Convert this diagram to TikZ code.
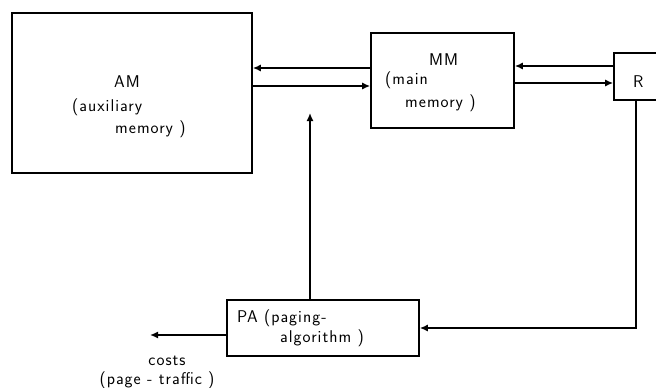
\documentclass[tikz,border=0pt]{standalone}
\usepackage{fontspec}
\newfontfamily\blockfont[LetterSpace=6]{Latin Modern Sans}
\usetikzlibrary{arrows.meta}
\begin{document}
\begin{tikzpicture}[x=1pt,y=-1pt,
  box/.style={draw,line width=1.6pt,inner sep=0pt},
  lbl/.style={font=\blockfont\fontsize{17}{20}\selectfont,inner sep=0pt,anchor=west},
  arr/.style={line width=1.5pt,-{Latex[length=8pt,width=7pt]}},
  wire/.style={line width=1.5pt}]
\useasboundingbox (0,0) rectangle (656,388);
\clip (0,0) rectangle (656,388);

% blocks
\node[box,minimum width=240pt,minimum height=160pt] (am) at (132,93) {};
\node[box,minimum width=143pt,minimum height=95pt] (mm) at (442.5,80.5) {};
\node[box,minimum width=50pt,minimum height=47pt] (r) at (639,76.5) {};
\node[box,minimum width=192pt,minimum height=56pt] (pa) at (323,328) {};

% block texts
\node[lbl] (amt) at (114,82) {AM};
\node[lbl] (amt2) at (72,107) {(auxiliary};
\node[lbl] (amt3) at (115,129) {memory )};
\node[lbl] (mmt) at (429,60) {MM};
\node[lbl] (mmt2) at (385,80) {(main};
\node[lbl] (mmt3) at (405,103) {memory )};
\node[lbl] (rt) at (633,82) {R};
\node[lbl] (pat) at (237,318) {PA (paging-};
\node[lbl] (pat2) at (280,338) {algorithm )};
\node[lbl,anchor=center] (cst) at (167,361) {costs};
\node[lbl,anchor=center] (cst2) at (157,380) {(page - traffic )};

% connectors
\draw[arr] (mm.west |- 0,68) -- (am.east |- 0,68);
\draw[arr] (am.east |- 0,86) -- (mm.west |- 0,86);
\draw[arr] (r.west |- 0,66) -- (mm.east |- 0,66);
\draw[arr] (mm.east |- 0,83) -- (r.west |- 0,83);

\coordinate (up) at (310,113);
\draw[arr] (pa.north -| up) -- (up);

\coordinate (bend) at (636,328);
\draw[arr] (r.south -| bend) -- (bend) -- (pa.east |- bend);

\coordinate (out) at (150,335);
\draw[arr] (pa.west |- out) -- (out);
\end{tikzpicture}
\end{document}
